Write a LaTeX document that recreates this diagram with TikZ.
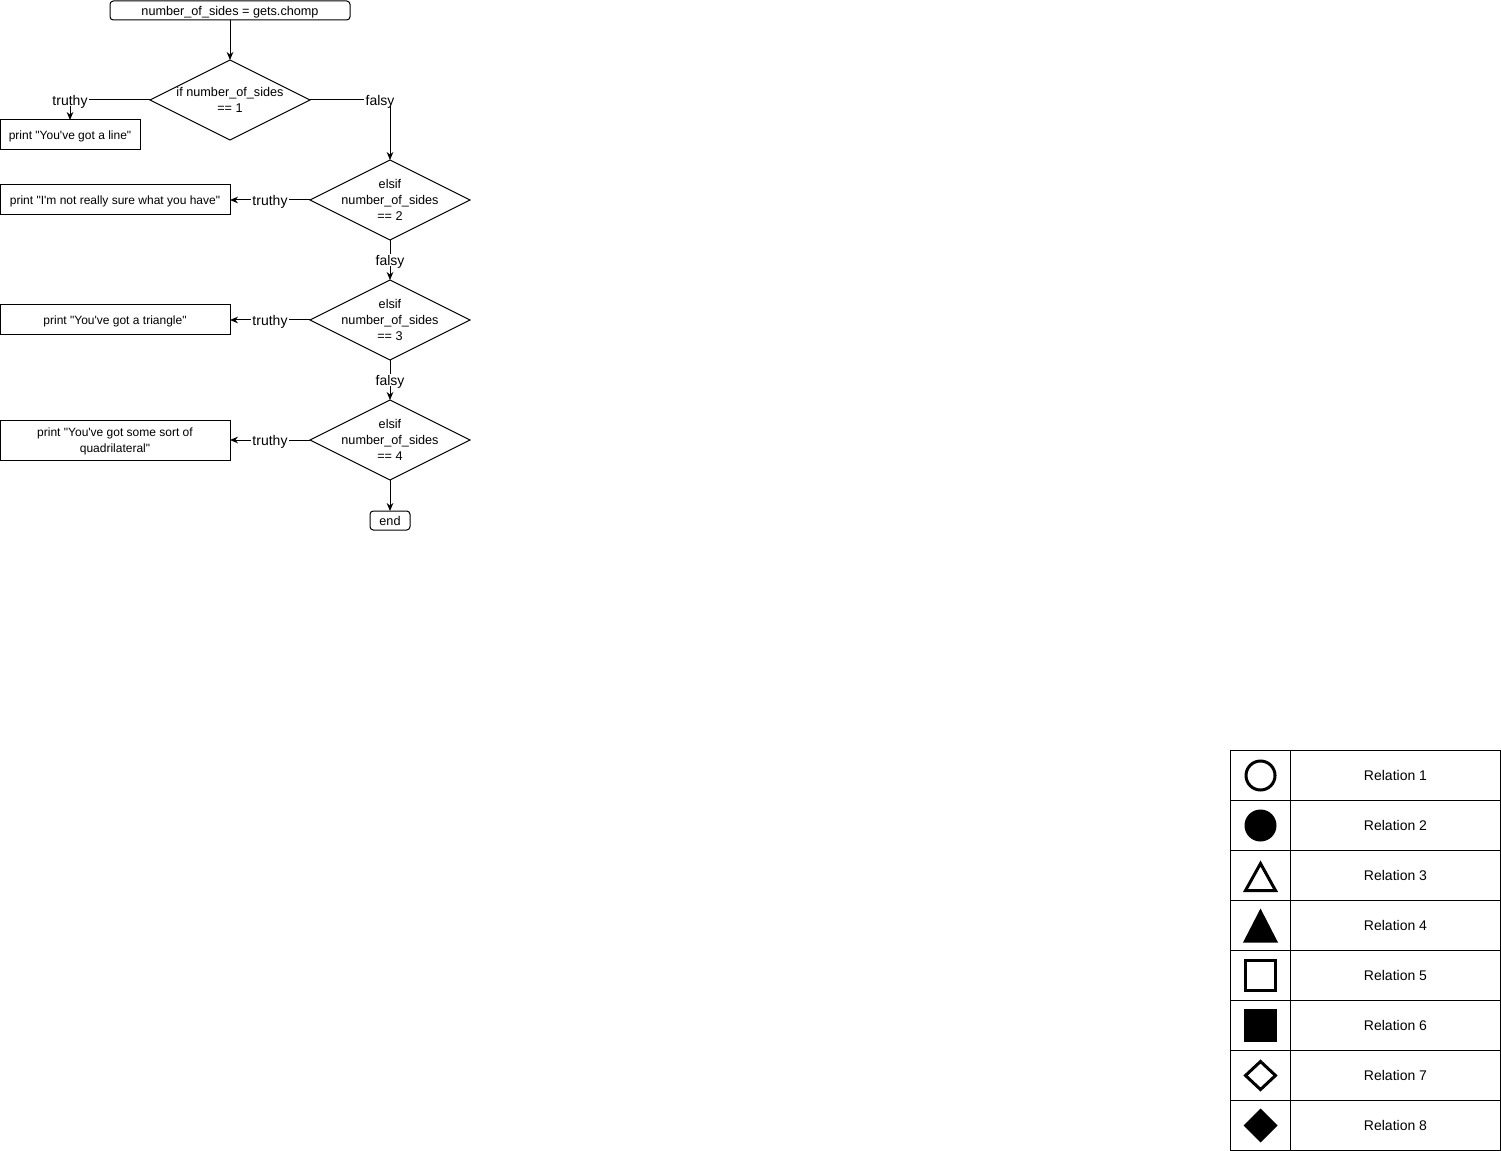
\documentclass[tikz,border=0pt]{standalone}
\usepackage{fontspec}
\setmainfont{Liberation Sans}
\usetikzlibrary{shapes.geometric}
\usetikzlibrary{positioning,calc}
\usetikzlibrary{matrix,arrows.meta}
\tikzset{
  box/.style={draw, line width=0.75pt, minimum height=22.5pt, inner sep=0pt, outer sep=0pt, text depth=0pt, align=center, font=\fontsize{9}{12}\selectfont},
  term/.style={box, rounded corners=2.5pt, minimum height=14.25pt, font=\fontsize{9.5}{12}\selectfont},
  decision/.style={draw, diamond, line width=0.75pt, minimum width=120pt, minimum height=60pt, inner sep=0pt, outer sep=0pt},
  dectext/.style={inner sep=0pt, align=center, font=\fontsize{9.5}{12}\selectfont},
  lbl/.style={fill=white, inner sep=1pt, text depth=0pt, font=\fontsize{10.5}{12}\selectfont},
  flow/.style={->, line width=0.75pt},
  >={Stealth[length=6pt,width=5pt]},
  sym/.style={line width=2.25pt, line join=miter},
}
\newcommand{\apos}{\textquotesingle}
\newcommand{\dq}{\textquotedbl}

\begin{document}
\begin{tikzpicture}[x=0.75pt, y=-0.75pt]
  \useasboundingbox (0,0) rectangle (1501,1151);

  % flowchart
  \node[term, minimum width=180pt] (start) at (230,10.5) {number\_of\_sides = gets.chomp};
  \node[decision] (d1) at (230,100) {};
  \node[dectext] (d1txt) at (d1) {if number\_of\_sides\\== 1};
  \node[decision] (d2) at (390,200) {};
  \node[dectext] (d2txt) at (d2) {elsif\\number\_of\_sides\\== 2};
  \node[decision] (d3) at (390,320) {};
  \node[dectext] (d3txt) at (d3) {elsif\\number\_of\_sides\\== 3};
  \node[decision] (d4) at (390,440) {};
  \node[dectext] (d4txt) at (d4) {elsif\\number\_of\_sides\\== 4};
  \node[term, minimum width=30pt] (end) at (390,520.5) {end};

  \node[box, minimum width=105pt] (b1) at (70,135) {print \dq You\apos ve got a line\dq};
  \node[box, minimum width=172.5pt] (b2) at (115,200) {print \dq I\apos m not really sure what you have\dq};
  \node[box, minimum width=172.5pt] (b3) at (115,320) {print \dq You\apos ve got a triangle\dq};
  \node[box, minimum width=172.5pt, minimum height=30pt] (b4) at (115,440) {print \dq You\apos ve got some sort of\\quadrilateral\dq};

  \draw[flow] (start.south) -- (d1.north);
  \draw[flow] (d1.west) -- node[lbl, pos=1]{truthy} (d1.west -| b1.north) -- (b1.north);
  \draw[flow] (d1.east) -- node[lbl, pos=1, xshift=-7.5pt]{falsy} (d1.east -| d2.north) -- (d2.north);
  \draw[flow] (d2.west) -- node[lbl]{truthy} (b2.east);
  \draw[flow] (d2.south) -- node[lbl]{falsy} (d3.north);
  \draw[flow] (d3.west) -- node[lbl]{truthy} (b3.east);
  \draw[flow] (d3.south) -- node[lbl]{falsy} (d4.north);
  \draw[flow] (d4.west) -- node[lbl]{truthy} (b4.east);
  \draw[flow] (d4.south) -- (end.north);

  % legend
  \matrix (rel) [matrix of nodes, nodes in empty cells, anchor=north west, inner sep=0pt, outer sep=0pt,
    column sep=-0.75pt, row sep=-0.75pt,
    nodes={draw, anchor=center, line width=0.75pt, minimum height=37.5pt, inner sep=0pt, outer sep=0pt, font=\fontsize{10.5}{12}\selectfont},
    column 1/.style={nodes={minimum width=45pt}},
    column 2/.style={nodes={minimum width=157.5pt}}] at (1230,750) {
      & Relation 1 \\
      & Relation 2 \\
      & Relation 3 \\
      & Relation 4 \\
      & Relation 5 \\
      & Relation 6 \\
      & Relation 7 \\
      & Relation 8 \\
  };
  \draw[sym] (rel-1-1.center) circle[radius=14.5];
  \fill (rel-2-1.center) circle[radius=16];
  \draw[sym, shift={(rel-3-1.center)}] (0,-12) -- (15,15) -- (-15,15) -- cycle;
  \fill[shift={(rel-4-1.center)}] (0,-17) -- (17.5,17) -- (-17.5,17) -- cycle;
  \draw[sym, shift={(rel-5-1.center)}] (-15,-15) rectangle (15,15);
  \fill[shift={(rel-6-1.center)}] (-16.5,-16.5) rectangle (16.5,16.5);
  \draw[sym, shift={(rel-7-1.center)}] (0,-14) -- (15,0) -- (0,14) -- (-15,0) -- cycle;
  \fill[shift={(rel-8-1.center)}] (0,-17) -- (17,0) -- (0,17) -- (-17,0) -- cycle;
\end{tikzpicture}
\end{document}
